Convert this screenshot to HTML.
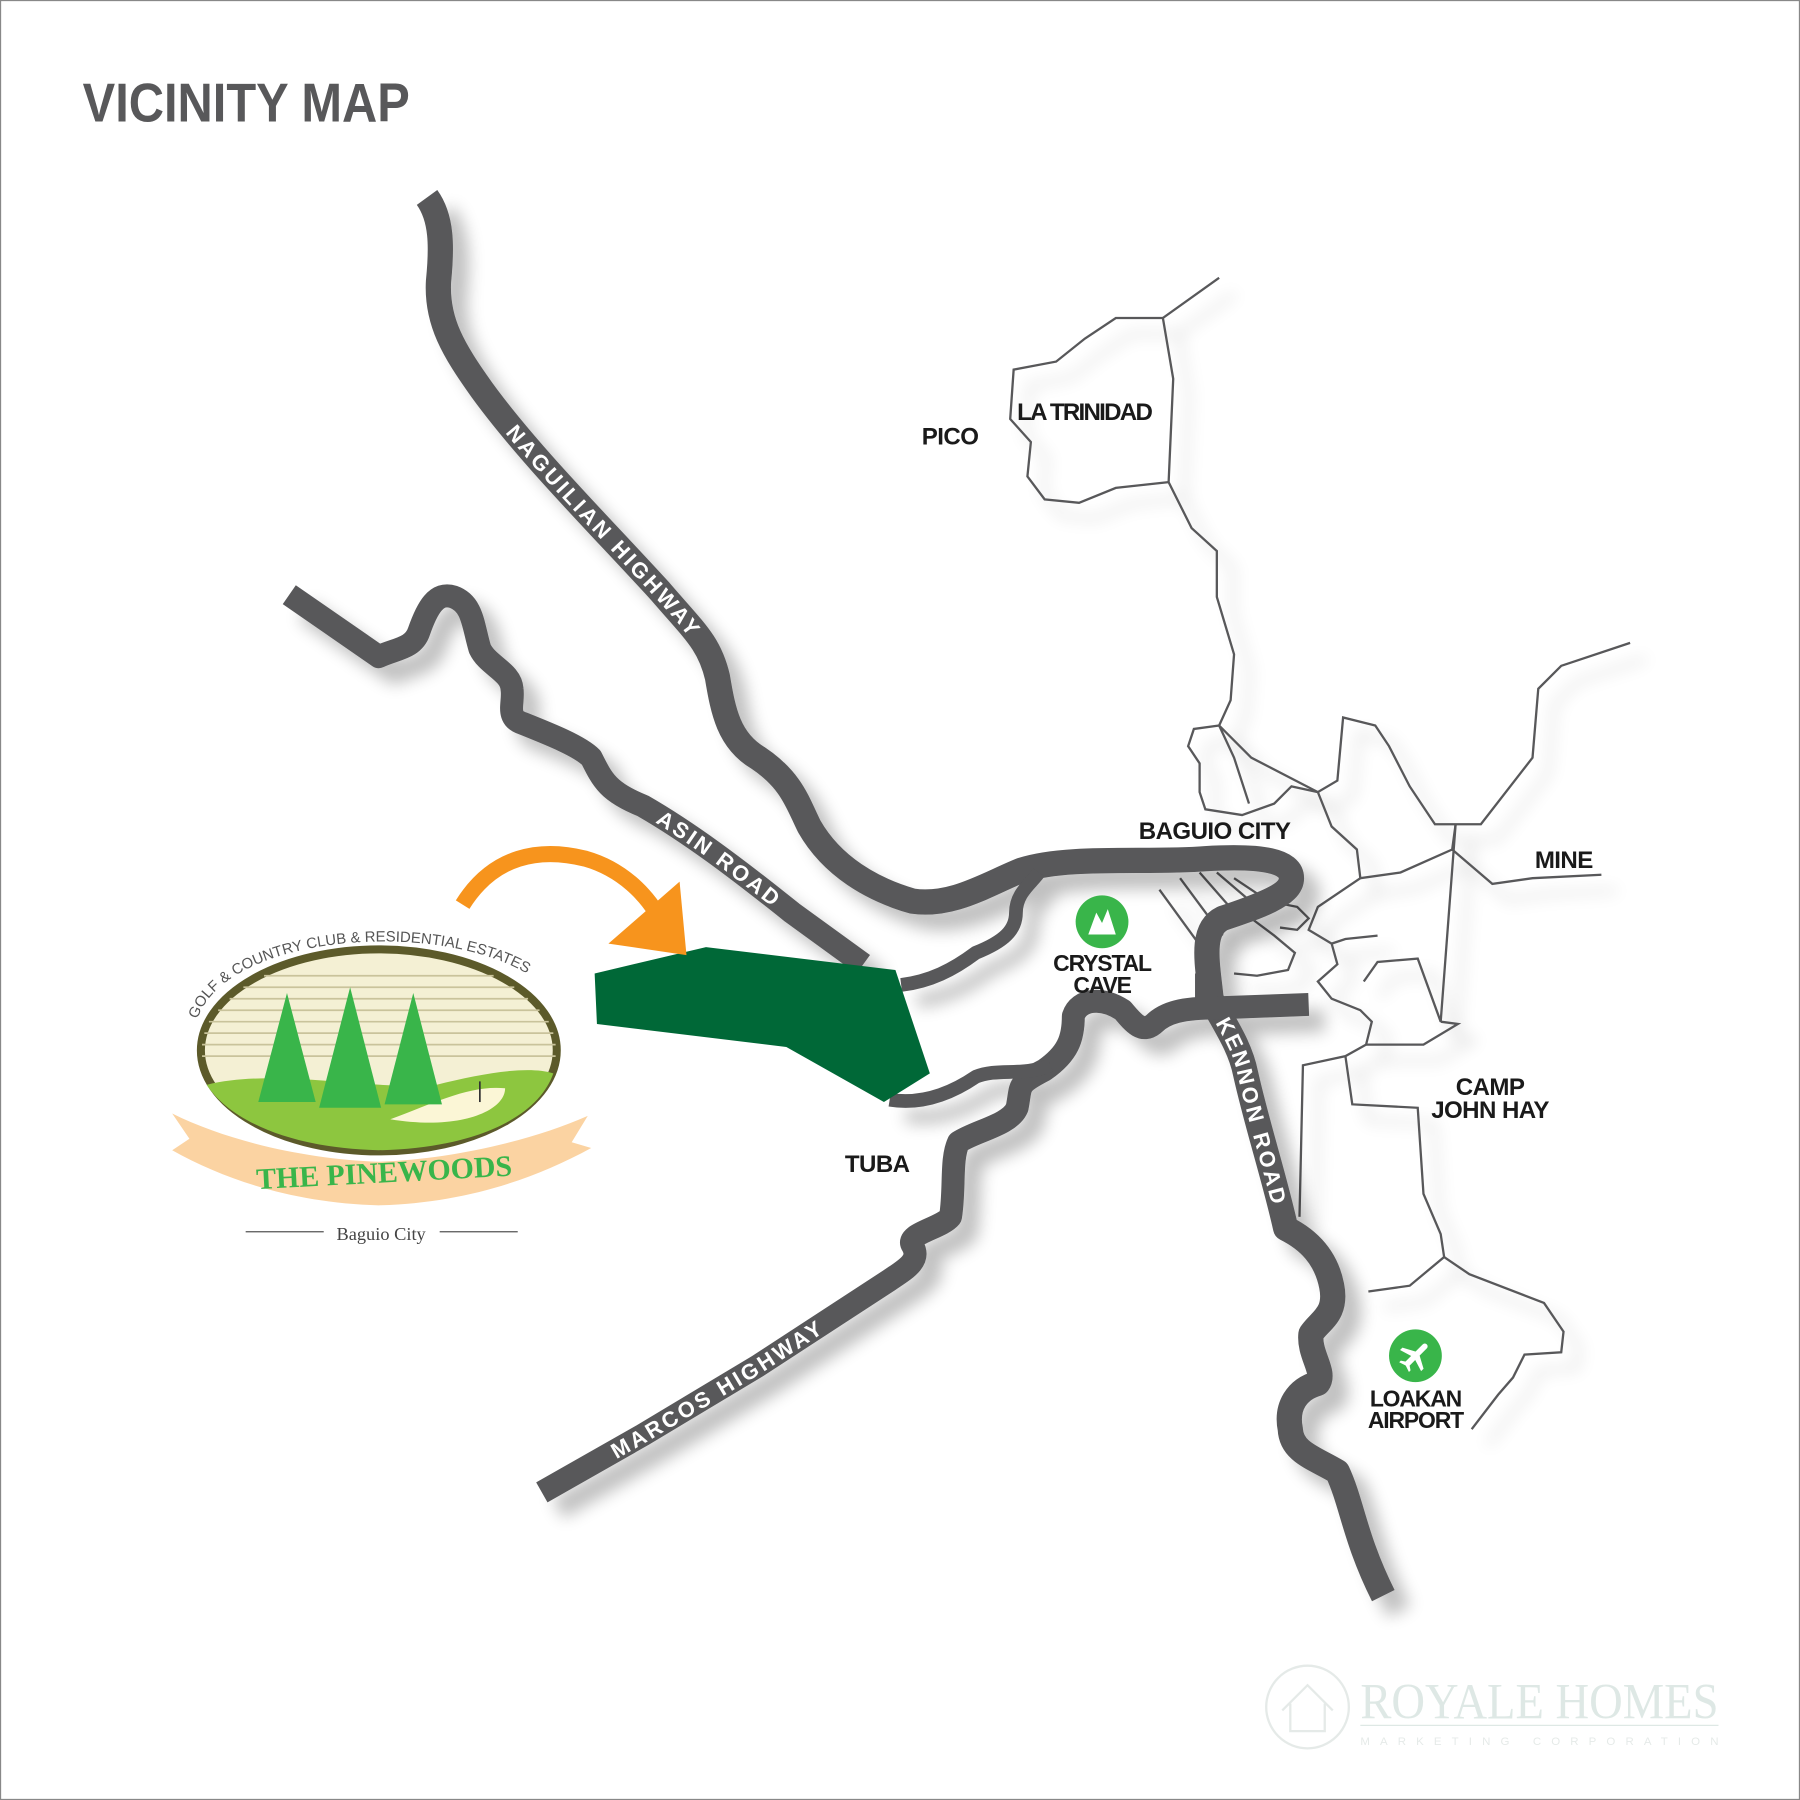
<!DOCTYPE html>
<html><head><meta charset="utf-8"><style>
html,body{margin:0;padding:0;background:#fff}
svg{display:block}
text{font-family:"Liberation Sans",sans-serif}
</style></head><body>
<svg width="1800" height="1800" viewBox="0 0 1568 1568" xmlns="http://www.w3.org/2000/svg">
<defs>
<filter id="sh" x="-20%" y="-20%" width="140%" height="140%">
<feGaussianBlur in="SourceAlpha" stdDeviation="7"/>
<feOffset dx="14" dy="14"/>
<feComponentTransfer><feFuncA type="linear" slope="0.25"/></feComponentTransfer>
<feMerge><feMergeNode/><feMergeNode in="SourceGraphic"/></feMerge>
</filter>
<path id="pN" d="M420,340 C460,395 520,455 575,515 C600,542 612,555 625,590"/>
<path id="pA" d="M530,685 C545,695 555,698 560,702 C600,725 640,755 690,795 L720,817"/>
<path id="pM" d="M472,1300 L560,1250 L660,1190 L775,1115"/>
<path id="pK" d="M1055,870 C1065,890 1080,910 1085,935 C1095,980 1110,1025 1120,1070"/>
</defs>
<rect x="0.5" y="0.5" width="1567" height="1567" fill="#fff" stroke="#888"/>
<text x="72" y="106" font-size="48" font-weight="bold" fill="#58585a" textLength="285" lengthAdjust="spacingAndGlyphs">VICINITY MAP</text>

<g fill="none" stroke="#58585a" stroke-width="2" filter="url(#sh)">
<path d="M1062,242 L1013,277 L1022,330 L1018,420 L1038,460 L1060,480 L1060,520 L1075,570 L1072,610 L1062,632 L1090,660 L1148,690 L1165,680 L1170,625 L1198,632 L1210,650 L1228,685 L1250,718 L1290,718 L1335,660 L1340,600 L1360,580 L1420,560"/>
<path d="M1013,277 L972,277 L945,295 L920,315 L883,322 L880,365 L898,385 L895,415 L910,435 L940,438 L972,425 L1018,420"/>
<path d="M1062,632 L1040,635 L1035,650 L1045,665 L1045,690 L1050,705 L1082,710 L1110,700 L1125,685 L1148,690 L1160,720 L1182,740 L1185,765 L1220,760 L1265,740 L1268,718"/>
<path d="M1062,632 L1075,660 L1088,700"/>
<path d="M1185,765 L1148,790 L1140,810 L1160,822 L1165,840 L1148,855 L1160,870 L1185,880 L1195,890 L1190,910 L1172,920 L1135,928 L1132,1060"/>
<path d="M1265,740 L1300,770 L1335,765 L1395,762"/>
<path d="M1268,718 L1255,890 L1235,835 L1200,838 L1188,855"/>
<path d="M1160,822 L1172,818 L1200,815"/>
<path d="M1190,910 L1240,910 L1270,892 L1255,890"/>
<path d="M1172,920 L1178,962 L1235,965 L1240,1040 L1255,1075 L1258,1095 L1228,1120 L1192,1125"/>
<path d="M1258,1095 L1280,1110 L1345,1135 L1362,1160 L1360,1178 L1328,1180 L1318,1200 L1305,1215 L1282,1245"/>
<path d="M1010,775 L1050,830 M1028,765 L1065,815 M1045,760 L1080,800 M1060,760 L1095,790 M1075,765 L1105,785"/>
<path d="M1090,800 L1110,815 L1128,830 L1122,845 L1095,850 L1075,848"/>
<path d="M1105,785 L1130,790 L1140,800 L1130,810 L1115,808"/>
</g>

<g fill="none" stroke="#58585a" stroke-linejoin="round" stroke-linecap="butt" filter="url(#sh)">
<path stroke-width="22" d="M372,172 C385,190 385,215 382,245 C380,280 395,305 420,340 C460,395 520,455 575,515 C605,550 618,560 625,590 C630,620 635,645 660,660 C690,680 695,700 705,720 C725,755 760,775 795,785 C830,790 860,770 890,758 C930,745 1000,752 1050,748 C1100,745 1125,750 1125,765 C1125,780 1095,790 1065,800 C1045,810 1052,840 1055,870 C1065,890 1080,910 1085,935 C1095,980 1110,1025 1120,1070 C1140,1080 1155,1095 1160,1120 C1165,1145 1150,1150 1142,1162 C1140,1180 1155,1195 1148,1205 C1130,1210 1120,1225 1124,1245 C1125,1265 1145,1270 1165,1282 C1178,1310 1180,1340 1205,1390"/>
<path stroke-width="20" d="M252,518 L330,572 C345,565 360,565 365,550 C372,530 380,515 395,520 C412,526 412,545 418,565 C425,580 445,585 446,600 C448,612 440,625 455,630 C480,640 505,650 515,660 C525,680 530,690 560,702 C600,725 640,755 690,795 L752,840"/>
<path stroke-width="20" d="M472,1300 L560,1250 L660,1190 L775,1115 C790,1105 802,1098 795,1085 C788,1075 820,1070 828,1060 C832,1035 828,1010 835,995 C850,985 880,980 886,965 C890,945 885,945 910,932 C930,918 935,905 935,885 C940,870 960,868 978,880 C988,892 995,900 1005,892 C1015,882 1030,878 1060,878 L1140,875"/>
<path stroke-width="12" d="M785,858 C810,855 830,845 850,830 C875,820 885,810 885,795 C885,778 898,770 905,760"/>
<path stroke-width="12" d="M775,958 C800,962 825,955 850,938 C870,930 890,938 915,928"/>
<path stroke-width="18" d="M1050,870 L1050,848"/>
</g>

<polygon points="518,848 615,825 780,845 810,935 770,960 685,912 520,892" fill="#006837"/>

<path d="M403,788 C430,745 470,738 510,748 C545,758 570,785 580,812" fill="none" stroke="#f7941d" stroke-width="14"/>
<polygon points="530,822 598,832 592,768" fill="#f7941d"/>

<g fill="#fff" font-size="19" letter-spacing="2.5" font-weight="bold" dominant-baseline="central">
<text><textPath href="#pN" startOffset="50%" text-anchor="middle">NAGUILIAN HIGHWAY</textPath></text>
<text><textPath href="#pA" startOffset="50%" text-anchor="middle">ASIN ROAD</textPath></text>
<text><textPath href="#pM" startOffset="50%" text-anchor="middle">MARCOS HIGHWAY</textPath></text>
<text><textPath href="#pK" startOffset="50%" text-anchor="middle">KENNON ROAD</textPath></text>
</g>

<g fill="#1a1a1a" font-size="21" font-weight="bold" letter-spacing="-0.5">
<text x="803" y="387">PICO</text>
<text x="886" y="366" letter-spacing="-1.5">LA TRINIDAD</text>
<text x="992" y="731">BAGUIO CITY</text>
<text x="1337" y="756">MINE</text>
<text x="1298" y="954" text-anchor="middle">CAMP</text>
<text x="1298" y="974" text-anchor="middle">JOHN HAY</text>
<text x="736" y="1021">TUBA</text>
</g>
<g fill="#1a1a1a" font-size="20" font-weight="bold" letter-spacing="-1">
<text x="960" y="846" text-anchor="middle">CRYSTAL</text>
<text x="960" y="865" text-anchor="middle">CAVE</text>
<text x="1233" y="1225" text-anchor="middle">LOAKAN</text>
<text x="1233" y="1244" text-anchor="middle">AIRPORT</text>
</g>
<circle cx="960" cy="803" r="23" fill="#39b54a"/>
<path d="M948,814 L955,795 L960,804 L965,792 L972,814 Z" fill="#fff"/>
<circle cx="1233" cy="1181" r="23" fill="#39b54a"/>
<g transform="translate(1233,1181) rotate(45)" fill="#fff">
<rect x="-2.5" y="-14" width="5" height="26" rx="2.5"/>
<polygon points="0,-4 -13,3 -13,6 0,2 13,6 13,3"/>
<polygon points="0,8 -6,12 -6,14 0,12 6,14 6,12"/>
</g>

<g>
<ellipse cx="330" cy="915" rx="155" ry="88" fill="#f4f0d4" stroke="#5c5a2a" stroke-width="7"/>
<g stroke="#c9c39b" stroke-width="1.5">
<line x1="190" y1="880" x2="470" y2="880"/><line x1="182" y1="890" x2="478" y2="890"/><line x1="178" y1="900" x2="482" y2="900"/><line x1="176" y1="910" x2="484" y2="910"/><line x1="176" y1="920" x2="484" y2="920"/><line x1="200" y1="870" x2="460" y2="870"/><line x1="212" y1="860" x2="448" y2="860"/><line x1="230" y1="850" x2="430" y2="850"/>
</g>
<path d="M180,945 C240,930 320,950 380,945 C420,935 460,928 482,935 C470,970 420,1000 330,1002 C250,1000 200,975 180,945 Z" fill="#8dc63f"/>
<path d="M340,975 C380,960 410,945 440,948 C440,968 400,985 340,975 Z" fill="#fbf6d6"/>
<polygon points="250,865 225,960 275,960" fill="#39b54a"/>
<polygon points="305,860 278,965 332,965" fill="#39b54a"/>
<polygon points="360,865 335,962 385,962" fill="#39b54a"/>
<line x1="418" y1="942" x2="418" y2="960" stroke="#333" stroke-width="1.5"/>
<path d="M150,970 C200,995 270,1010 330,1012 C390,1010 460,995 512,972 L498,995 L515,1000 C460,1030 400,1048 330,1050 C260,1048 200,1030 150,1002 L165,992 Z" fill="#fbd3a2"/>
<text x="335" y="1030" text-anchor="middle" font-size="26" font-weight="bold" fill="#39b54a" style="font-family:'Liberation Serif',serif" transform="rotate(-3 335 1030)">THE PINEWOODS</text>
<path id="arcT" d="M172,888 C200,800 460,795 496,888" fill="none"/>
<text font-size="13" fill="#555"><textPath href="#arcT">GOLF &amp; COUNTRY CLUB &amp; RESIDENTIAL ESTATES</textPath></text>
<line x1="214" y1="1073" x2="282" y2="1073" stroke="#555" stroke-width="1"/>
<line x1="383" y1="1073" x2="451" y2="1073" stroke="#555" stroke-width="1"/>
<text x="332" y="1080" text-anchor="middle" font-size="16" fill="#444" style="font-family:'Liberation Serif',serif">Baguio City</text>
</g>

<g opacity="0.5">
<circle cx="1139" cy="1487" r="36" fill="none" stroke="#ccd6d2" stroke-width="2"/>
<path d="M1117,1490 L1139,1468 L1161,1490 M1124,1484 L1124,1508 L1154,1508 L1154,1484" fill="none" stroke="#ccd6d2" stroke-width="2"/>
<text x="1185" y="1497" font-size="44" fill="#bfd3cc" style="font-family:'Liberation Serif',serif" textLength="312" lengthAdjust="spacingAndGlyphs">ROYALE HOMES</text>
<line x1="1185" y1="1503" x2="1497" y2="1503" stroke="#bfd3cc"/>
<text x="1185" y="1520" font-size="10" fill="#ccd6d2" textLength="312">MARKETING CORPORATION</text>
</g>
</svg>
</body></html>
